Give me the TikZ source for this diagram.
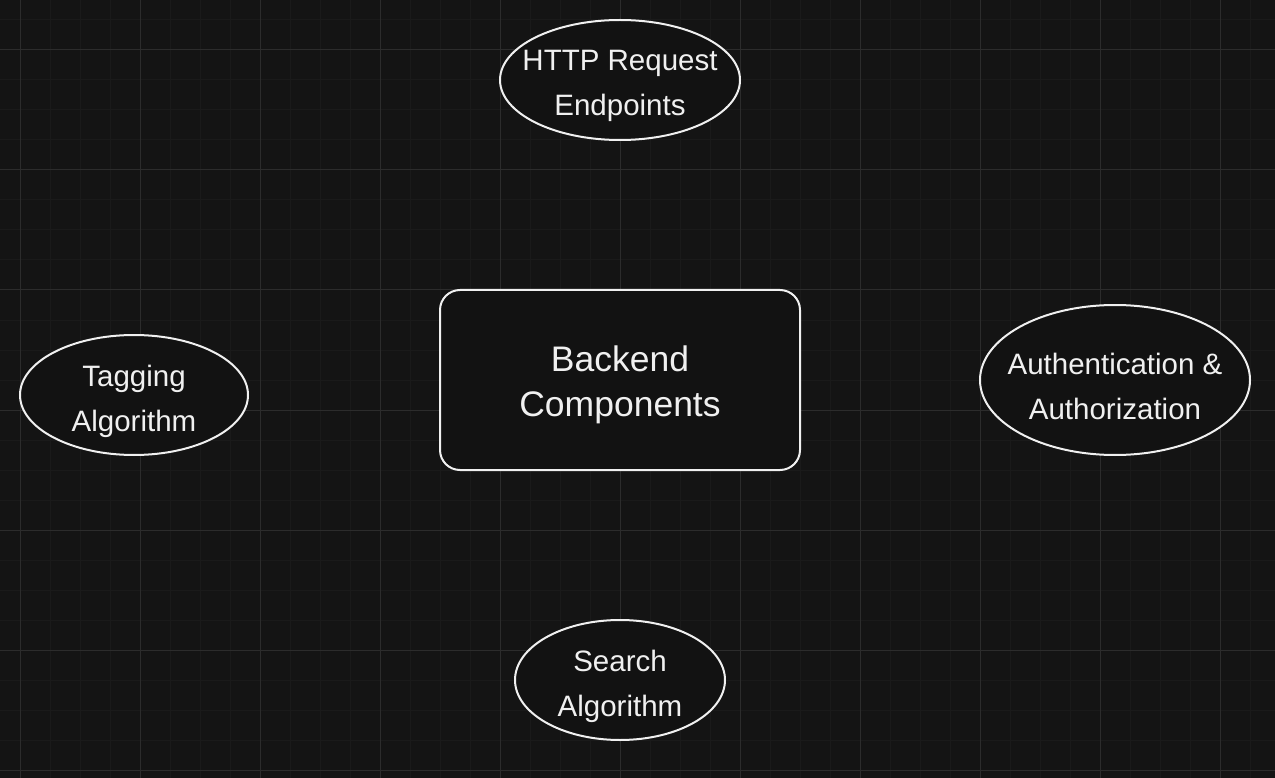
\documentclass[tikz,border=0pt]{standalone}
\usepackage{fontspec}
\setmainfont{Liberation Sans}
\definecolor{bgc}{HTML}{141414}
\definecolor{minorc}{HTML}{1A1A1A}
\definecolor{majorc}{HTML}{2C2C2C}
\definecolor{fillc}{HTML}{121212}
\definecolor{linec}{HTML}{F0F0F0}
\tikzset{
  shapeline/.style={draw=linec, line width=2pt, fill=fillc},
  smalltext/.style={text=linec, align=center, inner sep=0pt, yshift=-6pt, font=\fontsize{29.5}{45}\selectfont},
  bigbox/.style={shapeline, rounded corners=20pt, minimum width=360pt, minimum height=180pt, inner sep=0pt, text=linec, align=center, font=\fontsize{35.5}{45}\selectfont},
}
\begin{document}
\begin{tikzpicture}[x=1pt,y=-1pt]
\useasboundingbox (0,0) rectangle (1275,778);
\fill[bgc] (0,0) rectangle (1275,778);
\foreach \x in {-10,20,...,1280} \draw[minorc, line width=1pt] (\x,0) -- (\x,778);
\foreach \y in {-10,20,...,780} \draw[minorc, line width=1pt] (0,\y) -- (1275,\y);
\foreach \x in {20,140,...,1260} \draw[majorc, line width=1pt] (\x,0) -- (\x,778);
\foreach \y in {50,170,...,770} \draw[majorc, line width=1pt] (0,\y) -- (1275,\y);

% ellipses
\coordinate (httpc) at (620,80);
\coordinate (tagc) at (134,395);
\coordinate (authc) at (1115,380);
\coordinate (searchc) at (620,680);
\draw[shapeline] (httpc) ellipse [x radius=120, y radius=60];
\draw[shapeline] (tagc) ellipse [x radius=114, y radius=60];
\draw[shapeline] (authc) ellipse [x radius=135, y radius=75];
\draw[shapeline] (searchc) ellipse [x radius=105, y radius=60];

\node[smalltext] (http) at (httpc) {HTTP Request\\Endpoints};
\node[smalltext] (tag) at (tagc) {Tagging\\Algorithm};
\node[smalltext] (auth) at (authc) {Authentication \&\\Authorization};
\node[smalltext] (search) at (searchc) {Search\\Algorithm};

\node[bigbox] (backend) at (620,380) {};
\node[text=linec, align=center, inner sep=0pt, font=\fontsize{35.5}{45}\selectfont, yshift=-5pt] (backendtext) at (backend.center) {Backend\\Components};
\end{tikzpicture}
\end{document}
